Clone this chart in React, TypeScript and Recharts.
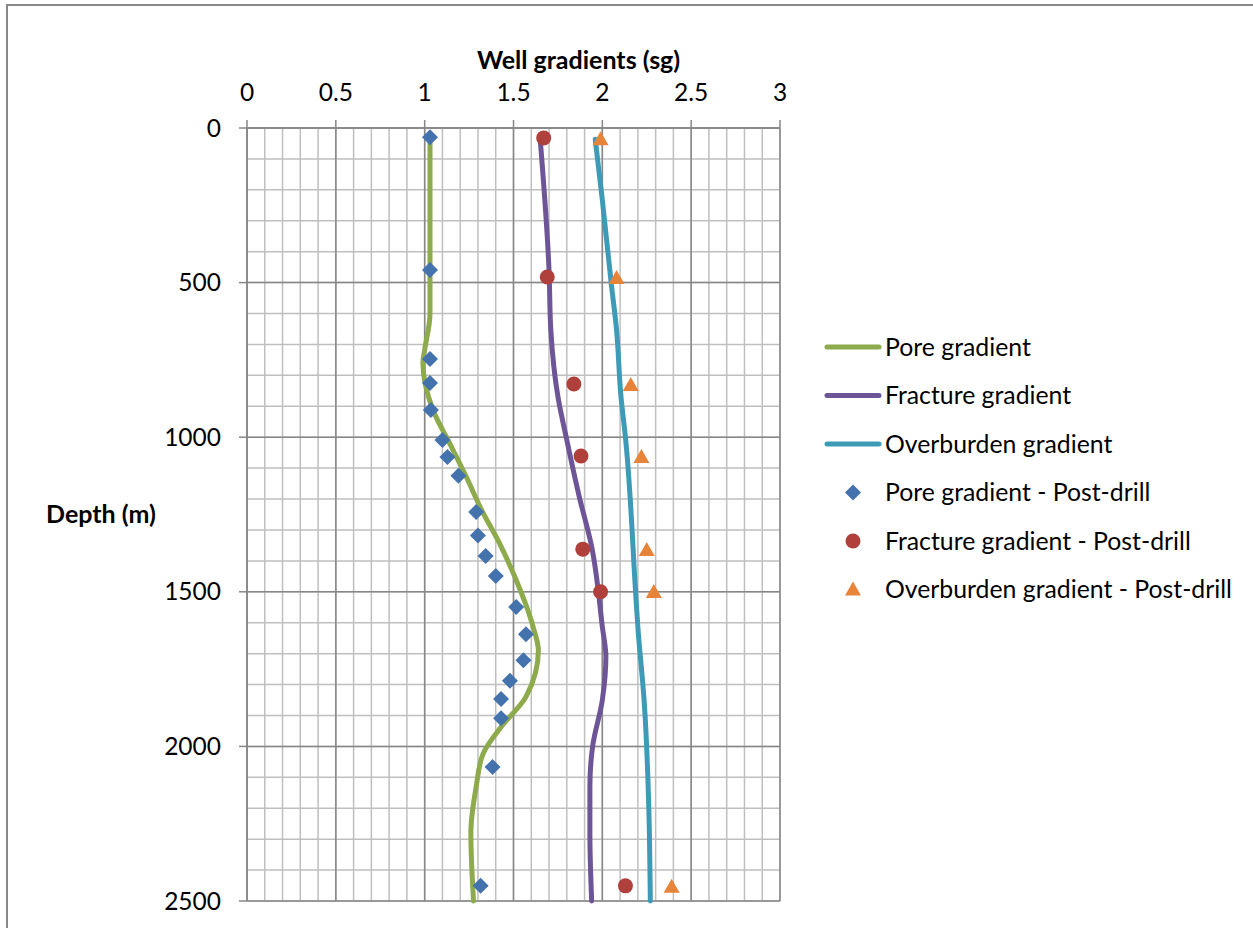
import React from 'react';
import { ScatterChart, Scatter, XAxis, YAxis, CartesianGrid } from 'recharts';

// Axis ticks
const X_TICKS = [0, 0.5, 1, 1.5, 2, 2.5, 3];
const Y_TICKS = [0, 500, 1000, 1500, 2000, 2500];
const X_MINOR = [0, 0.1, 0.2, 0.3, 0.4, 0.5, 0.6, 0.7, 0.8, 0.9, 1, 1.1, 1.2, 1.3, 1.4, 1.5, 1.6, 1.7, 1.8, 1.9, 2, 2.1, 2.2, 2.3, 2.4, 2.5, 2.6, 2.7, 2.8, 2.9, 3];
const Y_MINOR = [0, 100, 200, 300, 400, 500, 600, 700, 800, 900, 1000, 1100, 1200, 1300, 1400, 1500, 1600, 1700, 1800, 1900, 2000, 2100, 2200, 2300, 2400, 2500];

// Pre-drill curves (smoothed lines)
const poreLine = [
  { depth: 35, sg: 1.03 }, { depth: 600, sg: 1.03 }, { depth: 718, sg: 1.0 },
  { depth: 760, sg: 0.99 }, { depth: 912, sg: 1.047 }, { depth: 1019, sg: 1.14 },
  { depth: 1128, sg: 1.234 }, { depth: 1235, sg: 1.32 }, { depth: 1342, sg: 1.42 },
  { depth: 1462, sg: 1.515 }, { depth: 1613, sg: 1.61 }, { depth: 1690, sg: 1.64 },
  { depth: 1840, sg: 1.57 }, { depth: 1937, sg: 1.43 }, { depth: 2022, sg: 1.33 },
  { depth: 2130, sg: 1.29 }, { depth: 2280, sg: 1.26 }, { depth: 2500, sg: 1.275 },
];

const fractureLine = [
  { depth: 35, sg: 1.65 }, { depth: 460, sg: 1.7 }, { depth: 653, sg: 1.71 },
  { depth: 869, sg: 1.75 }, { depth: 1009, sg: 1.8 }, { depth: 1192, sg: 1.87 },
  { depth: 1354, sg: 1.94 }, { depth: 1613, sg: 2.0 }, { depth: 1710, sg: 2.02 },
  { depth: 1850, sg: 2.0 }, { depth: 2001, sg: 1.945 }, { depth: 2130, sg: 1.93 },
  { depth: 2281, sg: 1.93 }, { depth: 2500, sg: 1.94 },
];

const overburdenLine = [
  { depth: 36, sg: 1.96 }, { depth: 233, sg: 2.0 }, { depth: 502, sg: 2.05 },
  { depth: 653, sg: 2.08 }, { depth: 869, sg: 2.105 }, { depth: 1000, sg: 2.13 },
  { depth: 1527, sg: 2.19 }, { depth: 1614, sg: 2.2 }, { depth: 1850, sg: 2.235 },
  { depth: 2281, sg: 2.265 }, { depth: 2500, sg: 2.27 },
];

// Post-drill measurements
const porePost = [
  { depth: 30, sg: 1.03 }, { depth: 459, sg: 1.03 }, { depth: 747, sg: 1.03 },
  { depth: 825, sg: 1.03 }, { depth: 912, sg: 1.035 }, { depth: 1009, sg: 1.1 },
  { depth: 1064, sg: 1.128 }, { depth: 1125, sg: 1.19 }, { depth: 1242, sg: 1.29 },
  { depth: 1318, sg: 1.3 }, { depth: 1384, sg: 1.343 }, { depth: 1449, sg: 1.4 },
  { depth: 1549, sg: 1.515 }, { depth: 1637, sg: 1.57 }, { depth: 1721, sg: 1.556 },
  { depth: 1788, sg: 1.48 }, { depth: 1847, sg: 1.43 }, { depth: 1909, sg: 1.43 },
  { depth: 2067, sg: 1.382 }, { depth: 2451, sg: 1.315 },
];

const fracturePost = [
  { depth: 32, sg: 1.67 }, { depth: 482, sg: 1.69 }, { depth: 828, sg: 1.84 },
  { depth: 1061, sg: 1.88 }, { depth: 1362, sg: 1.89 }, { depth: 1500, sg: 1.99 },
  { depth: 2451, sg: 2.13 },
];

const overburdenPost = [
  { depth: 36, sg: 1.99 }, { depth: 485, sg: 2.08 }, { depth: 831, sg: 2.16 },
  { depth: 1064, sg: 2.22 }, { depth: 1365, sg: 2.25 }, { depth: 1501, sg: 2.29 },
  { depth: 2454, sg: 2.39 },
];

const FONT = 'Lato, "Open Sans", sans-serif';
const GREEN = '#8DAA4C';
const PURPLE = '#6E5598';
const TEAL = '#3E9BB7';
const BLUE = '#4372AD';
const RED = '#B0403C';
const ORANGE = '#E8843A';
const MAJOR = '#878787';
const MINOR = '#BFBFBF';

const Diamond = ({ cx, cy, fill }: any) => (
  <polygon points={`${cx},${cy - 8} ${cx + 8},${cy} ${cx},${cy + 8} ${cx - 8},${cy}`} fill={fill} />
);
const Dot = ({ cx, cy, fill }: any) => <circle cx={cx} cy={cy} r={7.5} fill={fill} />;
const Triangle = ({ cx, cy, fill }: any) => (
  <polygon points={`${cx},${cy - 8} ${cx + 8},${cy + 6} ${cx - 8},${cy + 6}`} fill={fill} />
);
const NoShape = () => <g />;

const legendItems = [
  { name: 'Pore gradient', color: GREEN, kind: 'line' },
  { name: 'Fracture gradient', color: PURPLE, kind: 'line' },
  { name: 'Overburden gradient', color: TEAL, kind: 'line' },
  { name: 'Pore gradient - Post-drill', color: BLUE, kind: 'diamond' },
  { name: 'Fracture gradient - Post-drill', color: RED, kind: 'circle' },
  { name: 'Overburden gradient - Post-drill', color: ORANGE, kind: 'triangle' },
];

const gridX = (values: number[]) => ({ xAxis, offset }: any) =>
  values.map((v) =>
    xAxis && typeof xAxis.scale === 'function' ? xAxis.scale(v) : offset.left + (v / 3) * offset.width
  );
const gridY = (values: number[]) => ({ yAxis, offset }: any) =>
  values.map((v) =>
    yAxis && typeof yAxis.scale === 'function' ? yAxis.scale(v) : offset.top + (v / 2500) * offset.height
  );

const XTitle = ({ viewBox }: any) => (
  <text
    x={viewBox.x + viewBox.width / 2 + 65}
    y={viewBox.y + 1}
    textAnchor="middle"
    fontFamily={FONT}
    fontWeight="bold"
    fontSize={25}
    fill="#000"
  >
    Well gradients (sg)
  </text>
);

const YTitle = ({ viewBox }: any) => (
  <text
    x={viewBox.x + 81}
    y={viewBox.y + viewBox.height / 2 + 8}
    textAnchor="middle"
    fontFamily={FONT}
    fontWeight="bold"
    fontSize={25}
    fill="#000"
  >
    Depth (m)
  </text>
);

const Legend = () => (
  <svg width={438} height={300} style={{ position: 'absolute', left: 815, top: 320 }}>
    {legendItems.map((item, i) => {
      const y = 27 + i * 48.5;
      let icon;
      if (item.kind === 'line') {
        icon = <line x1={12} x2={64} y1={y} y2={y} stroke={item.color} strokeWidth={5} strokeLinecap="round" />;
      } else if (item.kind === 'diamond') {
        icon = <Diamond cx={38} cy={y} fill={item.color} />;
      } else if (item.kind === 'circle') {
        icon = <Dot cx={38} cy={y} fill={item.color} />;
      } else {
        icon = <Triangle cx={38} cy={y} fill={item.color} />;
      }
      return (
        <g key={item.name}>
          {icon}
          <text x={70} y={y + 8.5} fontFamily={FONT} fontSize={24.8} fill="#000">
            {item.name}
          </text>
        </g>
      );
    })}
  </svg>
);

export default function App() {
  return (
    <div style={{ position: 'absolute', left: 0, top: 0, width: 1253, height: 928, overflow: 'hidden', background: '#fff' }}>
      <div
        style={{
          position: 'absolute',
          left: 6,
          top: 4,
          width: 2000,
          height: 2000,
          borderTop: `2px solid ${MAJOR}`,
          borderLeft: `2px solid ${MAJOR}`,
        }}
      />
      <ScatterChart
        width={1253}
        height={928}
        margin={{ top: 68, right: 473, bottom: 27, left: 20 }}
        style={{ position: 'absolute', left: 0, top: 0 }}
      >
        <CartesianGrid
          stroke={MINOR}
          strokeWidth={1.5}
          verticalCoordinatesGenerator={gridX(X_MINOR)}
          horizontalCoordinatesGenerator={gridY(Y_MINOR)}
        />
        <CartesianGrid
          stroke={MAJOR}
          strokeWidth={1.5}
          verticalCoordinatesGenerator={gridX(X_TICKS)}
          horizontalCoordinatesGenerator={gridY(Y_TICKS)}
        />
        <XAxis
          type="number"
          dataKey="sg"
          orientation="top"
          domain={[0, 3]}
          ticks={X_TICKS}
          interval={0}
          height={60}
          tickSize={8}
          tickMargin={19}
          axisLine={{ stroke: MAJOR, strokeWidth: 1.5 }}
          tickLine={{ stroke: MAJOR, strokeWidth: 1.5 }}
          tick={{ fill: '#000', fontSize: 24.5, fontFamily: FONT }}
          label={<XTitle />}
        />
        <YAxis
          type="number"
          dataKey="depth"
          domain={[0, 2500]}
          reversed
          ticks={Y_TICKS}
          interval={0}
          width={227}
          tickSize={8}
          tickMargin={18}
          axisLine={{ stroke: MAJOR, strokeWidth: 1.5 }}
          tickLine={{ stroke: MAJOR, strokeWidth: 1.5 }}
          tick={{ fill: '#000', fontSize: 24.5, fontFamily: FONT }}
          label={<YTitle />}
        />
        <Scatter
          name="Pore gradient"
          data={poreLine}
          fill={GREEN}
          line={{ stroke: GREEN, strokeWidth: 5, strokeLinecap: 'round' }}
          lineJointType="monotoneY"
          shape={NoShape}
          isAnimationActive={false}
        />
        <Scatter
          name="Fracture gradient"
          data={fractureLine}
          fill={PURPLE}
          line={{ stroke: PURPLE, strokeWidth: 5, strokeLinecap: 'round' }}
          lineJointType="monotoneY"
          shape={NoShape}
          isAnimationActive={false}
        />
        <Scatter
          name="Overburden gradient"
          data={overburdenLine}
          fill={TEAL}
          line={{ stroke: TEAL, strokeWidth: 5, strokeLinecap: 'round' }}
          lineJointType="monotoneY"
          shape={NoShape}
          isAnimationActive={false}
        />
        <Scatter name="Pore gradient - Post-drill" data={porePost} fill={BLUE} shape={Diamond} isAnimationActive={false} />
        <Scatter name="Fracture gradient - Post-drill" data={fracturePost} fill={RED} shape={Dot} isAnimationActive={false} />
        <Scatter name="Overburden gradient - Post-drill" data={overburdenPost} fill={ORANGE} shape={Triangle} isAnimationActive={false} />
      </ScatterChart>
      <Legend />
    </div>
  );
}
